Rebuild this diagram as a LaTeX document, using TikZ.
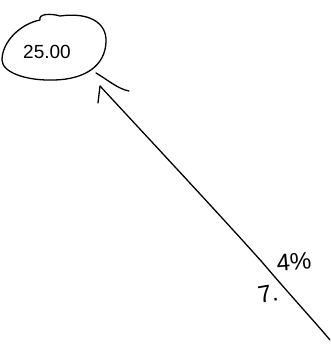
\documentclass[tikz,border=0pt]{standalone}
\usepackage{fontspec}
\setmainfont{Liberation Sans}
\begin{document}
\begin{tikzpicture}[x=1pt,y=-1pt,
  pen/.style={line width=1.3pt,line cap=round,line join=round},
  lbl/.style={inner sep=0pt,font=\fontsize{19}{19}\selectfont},
  hand/.style={inner sep=0pt,font=\fontsize{24}{24}\selectfont}]
\useasboundingbox (0,0) rectangle (331,346);
% ellipse
\draw[pen] (40,20) .. controls (38,14) and (50,13) .. (60,16)
  .. controls (88,12) and (107,22) .. (106,42)
  .. controls (105,66) and (85,79) .. (55,80)
  .. controls (25,81) and (2,72) .. (2,60)
  .. controls (2,42) and (20,24) .. (40,20);
\node[lbl] (val) at (47,52) {25.00};
% arrow
\coordinate (tip) at (100,86);
\coordinate (tail) at (330,340);
\coordinate (barb) at (98,103);
\draw[pen] (tip) .. controls (150,140) and (220,215) .. (262,262)
  .. controls (290,295) and (315,322) .. (tail);
\draw[pen] (tip) -- (barb);
\draw[pen] (96,73) .. controls (108,80) and (118,89) .. (129,91);
% labels
\node[hand,rotate=10] (seven) at (268,294) {7.};
\node[hand,rotate=5] (pct) at (294,262) {4\%};
\end{tikzpicture}
\end{document}
